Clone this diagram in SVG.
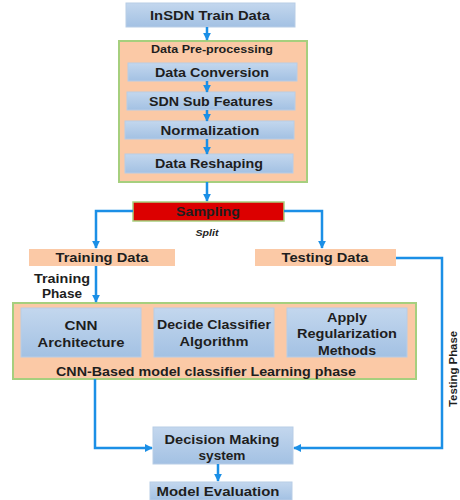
<svg xmlns="http://www.w3.org/2000/svg" width="460" height="500" viewBox="0 0 460 500">
  <defs>
    <linearGradient id="blueFill" x1="0" y1="0" x2="0" y2="1">
      <stop offset="0" stop-color="#c3d7ee"/>
      <stop offset="1" stop-color="#a3c1e3"/>
    </linearGradient>
    <marker id="arrow" viewBox="0 0 10 10" refX="9" refY="5" markerWidth="3.2" markerHeight="3.2" orient="auto" markerUnits="strokeWidth">
      <path d="M0,0 L10,5 L0,10 Z" fill="#1b8fe6"/>
    </marker>
    <style>
      .blue { fill: url(#blueFill); stroke: #b8cde6; stroke-width: 1; }
      .peach { fill: #fbc9a6; }
      .group { fill: #fbc9a6; stroke: #a6cf7e; stroke-width: 2; }
      .red { fill: #dc0000; stroke: #a6cf7e; stroke-width: 1.5; }
      .t { font-family: "Liberation Sans", Arial, sans-serif; font-weight: bold; fill: #1e1e1e; text-anchor: middle; }
      .lbl { font-size: 13px; }
      .sm { font-size: 11.5px; }
      .edge { fill: none; stroke: #1b8fe6; stroke-width: 2.5; }
    </style>
  </defs>

  <rect width="460" height="500" fill="#ffffff"/>

  <!-- containers -->
  <g id="preprocessing">
    <rect class="group" x="119" y="41" width="188" height="141"/>
    <text class="t sm" x="212" y="53" textLength="122" lengthAdjust="spacingAndGlyphs">Data Pre-processing</text>
  </g>
  <g id="learning">
    <rect class="group" x="13" y="303" width="403" height="76"/>
    <text class="t lbl" x="206" y="376" textLength="300" lengthAdjust="spacingAndGlyphs">CNN-Based model classifier Learning phase</text>
  </g>

  <!-- nodes -->
  <g id="insdn">
    <rect class="blue" x="126" y="3" width="169" height="24"/>
    <text class="t lbl" x="210" y="20" textLength="120" lengthAdjust="spacingAndGlyphs">InSDN Train Data</text>
  </g>
  <g id="conversion">
    <rect class="blue" x="128" y="63" width="169" height="18"/>
    <text class="t lbl" x="212" y="77" textLength="114" lengthAdjust="spacingAndGlyphs">Data Conversion</text>
  </g>
  <g id="subfeatures">
    <rect class="blue" x="127" y="92" width="168" height="18"/>
    <text class="t lbl" x="211" y="106" textLength="124" lengthAdjust="spacingAndGlyphs">SDN Sub Features</text>
  </g>
  <g id="normalization">
    <rect class="blue" x="125" y="121" width="169" height="18"/>
    <text class="t lbl" x="210" y="135" textLength="99" lengthAdjust="spacingAndGlyphs">Normalization</text>
  </g>
  <g id="reshaping">
    <rect class="blue" x="125" y="154" width="168" height="19"/>
    <text class="t lbl" x="209" y="168" textLength="108" lengthAdjust="spacingAndGlyphs">Data Reshaping</text>
  </g>
  <g id="sampling">
    <rect class="red" x="133" y="202" width="151" height="19"/>
    <text class="t lbl" x="208" y="216" textLength="64" lengthAdjust="spacingAndGlyphs">Sampling</text>
  </g>
  <g id="training">
    <rect class="peach" x="29" y="249" width="146" height="17"/>
    <text class="t lbl" x="102" y="262" textLength="93" lengthAdjust="spacingAndGlyphs">Training Data</text>
  </g>
  <g id="testing">
    <rect class="peach" x="255" y="249" width="141" height="17"/>
    <text class="t lbl" x="325" y="262" textLength="87" lengthAdjust="spacingAndGlyphs">Testing Data</text>
  </g>
  <g id="cnn">
    <rect class="blue" x="21" y="308" width="120" height="49"/>
    <text class="t lbl" x="81" y="330" textLength="33" lengthAdjust="spacingAndGlyphs">CNN</text>
    <text class="t lbl" x="81" y="347" textLength="87" lengthAdjust="spacingAndGlyphs">Architecture</text>
  </g>
  <g id="decide">
    <rect class="blue" x="154" y="308" width="120" height="49"/>
    <text class="t lbl" x="214" y="329" textLength="114" lengthAdjust="spacingAndGlyphs">Decide Classifier</text>
    <text class="t lbl" x="214" y="346" textLength="69" lengthAdjust="spacingAndGlyphs">Algorithm</text>
  </g>
  <g id="regularization">
    <rect class="blue" x="287" y="308" width="120" height="49"/>
    <text class="t lbl" x="347" y="322" textLength="40" lengthAdjust="spacingAndGlyphs">Apply</text>
    <text class="t lbl" x="347" y="338" textLength="100" lengthAdjust="spacingAndGlyphs">Regularization</text>
    <text class="t lbl" x="347" y="355" textLength="58" lengthAdjust="spacingAndGlyphs">Methods</text>
  </g>
  <g id="decision">
    <rect class="blue" x="153" y="427" width="140" height="37"/>
    <text class="t lbl" x="222" y="444" textLength="115" lengthAdjust="spacingAndGlyphs">Decision Making</text>
    <text class="t lbl" x="222" y="460" textLength="47" lengthAdjust="spacingAndGlyphs">system</text>
  </g>
  <g id="evaluation">
    <rect class="blue" x="150" y="482" width="142" height="18"/>
    <text class="t lbl" x="218" y="496" textLength="123" lengthAdjust="spacingAndGlyphs">Model Evaluation</text>
  </g>

  <!-- connectors -->
  <g id="connectors">
    <path class="edge" d="M207,27 V40" marker-end="url(#arrow)"/>
    <path class="edge" d="M207,81 V92" marker-end="url(#arrow)"/>
    <path class="edge" d="M207,110 V121" marker-end="url(#arrow)"/>
    <path class="edge" d="M207,139 V154" marker-end="url(#arrow)"/>
    <path class="edge" d="M207,182 V201" marker-end="url(#arrow)"/>
    <path class="edge" d="M133,211 H96 V248" marker-end="url(#arrow)"/>
    <path class="edge" d="M284,211 H322 V248" marker-end="url(#arrow)"/>
    <path class="edge" d="M96,266 V302" marker-end="url(#arrow)"/>
    <path class="edge" d="M95,379 V448 H152" marker-end="url(#arrow)"/>
    <path class="edge" d="M396,258 H442 V448 H294" marker-end="url(#arrow)"/>
    <path class="edge" d="M218,464 V481" marker-end="url(#arrow)"/>
  </g>

  <!-- edge labels -->
  <g id="labels">
    <text class="t" x="207" y="236" font-size="9" font-style="italic" textLength="23" lengthAdjust="spacingAndGlyphs">Split</text>
    <text class="t lbl" x="62" y="283" textLength="56" lengthAdjust="spacingAndGlyphs">Training</text>
    <text class="t lbl" x="62" y="298" textLength="40" lengthAdjust="spacingAndGlyphs">Phase</text>
    <text class="t" font-size="10.5" transform="translate(457,369) rotate(-90)" textLength="76" lengthAdjust="spacingAndGlyphs">Testing Phase</text>
  </g>
</svg>
